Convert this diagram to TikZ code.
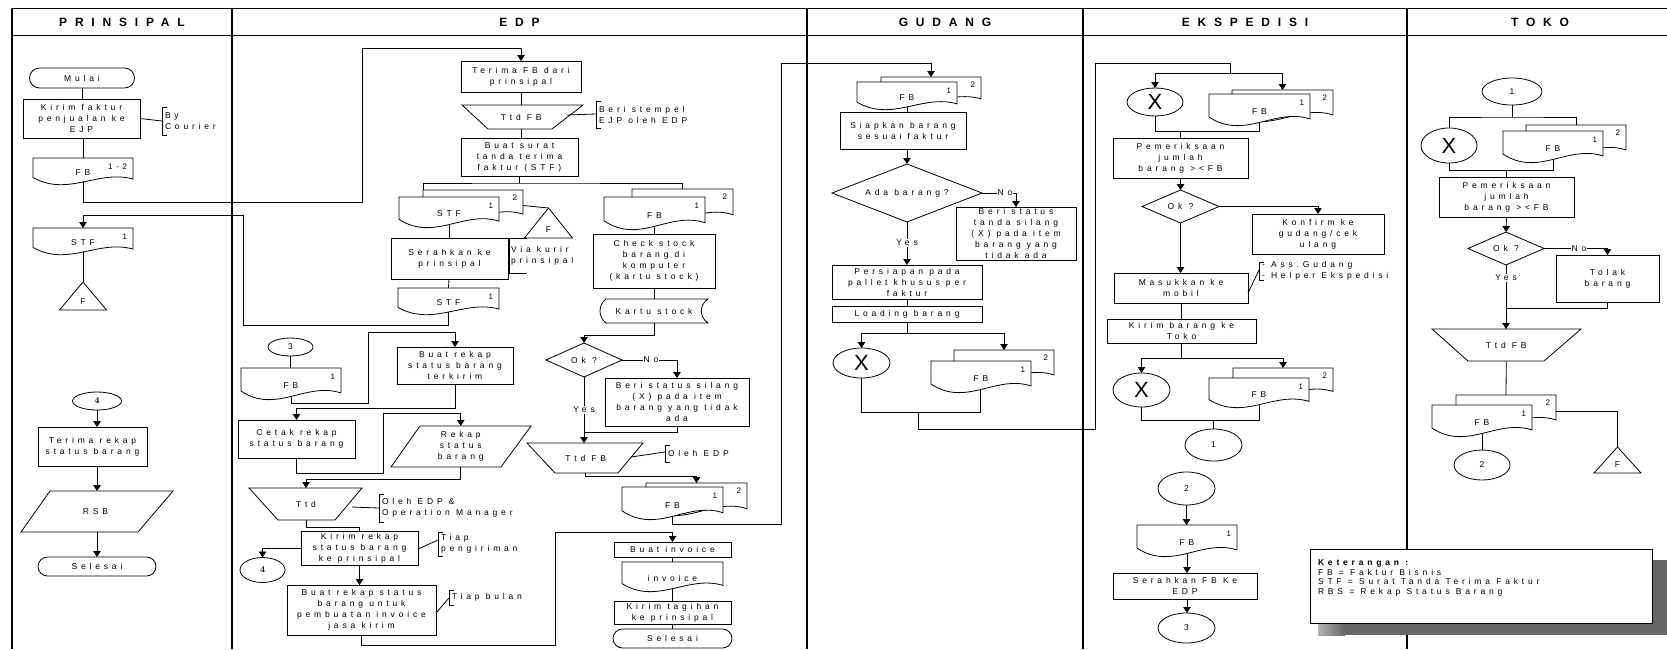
\documentclass[tikz,border=0pt]{standalone}
\usepackage{fontspec}
\usetikzlibrary{arrows.meta,shapes.geometric,calc}
\newfontfamily\lsf[LetterSpace=45]{Liberation Sans}
\newfontfamily\hdf[LetterSpace=65]{Liberation Sans}
\newfontfamily\plainsans{Liberation Sans}
\newcommand\bodyfont{\lsf\fontsize{8.5}{11}\selectfont}
\newcommand\numfont{\lsf\fontsize{8}{8}\selectfont}
\newcommand\headfont{\hdf\bfseries\fontsize{12}{12}\selectfont}
\newcommand\bigxfont{\plainsans\fontsize{22}{22}\selectfont}
\newcommand\serfour{\rmfamily\bfseries\fontsize{9}{9}\selectfont 4}

\tikzset{
  ln/.style={line width=0.8pt},
  lane/.style={line width=1.8pt},
  hline/.style={line width=0.9pt},
  arr/.style={ln, -{Triangle[length=6pt,width=7.5pt]}},
  box/.style={draw, ln, fill=white, rectangle, inner sep=0pt, outer sep=0pt},
  txt/.style={inner sep=0pt, outer sep=0pt, align=center, font=\bodyfont},
  num/.style={txt, font=\numfont, anchor=east},
  conn/.style={draw, ln, fill=white, ellipse, inner sep=0pt, outer sep=0pt, font=\bodyfont},
  lbl/.style={fill=white, inner sep=1pt, font=\bodyfont},
  head/.style={inner sep=0pt, font=\headfont},
}

% process box: name, cx, cy, w, h, text
\newcommand\FBox[6]{%
  \node[box, minimum width=#4, minimum height=#5] (#1) at (#2,#3) {};
  \node[txt] (#1-t) at (#1.center) {#6};}
% terminator
\newcommand\FTerm[6]{%
  \node[box, minimum width=#4, minimum height=#5, rounded corners={#5/2}] (#1) at (#2,#3) {};
  \node[txt] (#1-t) at (#1.center) {#6};}
% off-page connector (ellipse)
\newcommand\FConn[6]{%
  \node[conn, minimum width=#4, minimum height=#5] (#1) at (#2,#3) {#6};}
% quadrilateral (manual operation / data): name, ytop, ybot, top x0, top x1, bottom x0, bottom x1, text
\newcommand\FQuad[8]{%
  \draw[ln, fill=white] (#4,#2) -- (#5,#2) -- (#7,#3) -- (#6,#3) -- cycle;
  \node[txt, minimum width={#5-#4}, minimum height={#3-#2}] (#1) at ({(#4+#5+#6+#7)/4},{(#2+#3)/2}) {#8};}
% decision
\newcommand\FDia[6]{%
  \node[txt, minimum width=#4, minimum height=#5] (#1) at (#2,#3) {#6};
  \draw[ln] (#1.north) -- (#1.east) -- (#1.south) -- (#1.west) -- cycle;}
% document outline: x0, y0, w, h
\newcommand\FDocShape[4]{%
  \draw[ln, fill=white] (#1,#2) -- ({#1+#3},#2) -- ({#1+#3},{#2+0.78*#4})
    .. controls ({#1+0.65*#3},{#2+0.42*#4}) and ({#1+0.35*#3},{#2+1.45*#4}) .. (#1,{#2+0.72*#4}) -- cycle;}
% document: name, x0, y0, w, h, text, copy number
\newcommand\FDoc[7]{%
  \FDocShape{#2}{#3}{#4}{#5}
  \node[txt] (#1) at ({#2+0.5*#4},{#3+0.55*#5}) {#6};
  \node[num] (#1-n) at ({#2+#4-6},{#3+9}) {#7};
  \coordinate (#1-top) at ({#2+0.5*#4},#3);
  \coordinate (#1-bot) at ({#2+0.5*#4},{#3+0.89*#5});}
% two-copy document: name, x0, y0, w, h, dx, dy, text
\newcommand\FStack[8]{%
  \pgfmathsetmacro\stkx{#2+#6}\pgfmathsetmacro\stky{#3-#7}
  \FDocShape{\stkx}{\stky}{#4}{#5}
  \node[num] (#1-n2) at ({\stkx+#4-6},{\stky+8}) {2};
  \coordinate (#1-btop) at ({\stkx+0.5*#4},\stky);
  \coordinate (#1-btl) at (\stkx,\stky);
  \coordinate (#1-bright) at ({\stkx+#4},{\stky+0.5*#5});
  \FDoc{#1}{#2}{#3}{#4}{#5}{#8}{1}}
% file (triangle): name, cx, apex y, base y, half width
\newcommand\FTri[5]{%
  \draw[ln, fill=white] (#2,#3) -- ({#2+#5},#4) -- ({#2-#5},#4) -- cycle;
  \node[txt] (#1) at (#2,{#4-8}) {F};
  \coordinate (#1-apex) at (#2,#3);}
% stored data: name, x0, x1, ytop, ybot, text
\newcommand\FStore[6]{%
  \draw[ln, fill=white] ({#2+6},#4) -- (#3,#4) .. controls ({#3-9},{#4+6}) and ({#3-9},{#5-6}) .. (#3,#5)
    -- ({#2+6},#5) .. controls ({#2-2},{#5-6}) and ({#2-2},{#4+6}) .. ({#2+6},#4) -- cycle;
  \node[txt, minimum width={#3-#2}, minimum height={#5-#4}] (#1) at ({(#2+#3)/2},{(#4+#5)/2}) {#6};}
% annotation: name, bracket x, ytop, ybot, from, y on bracket, text
\newcommand\FAnnot[7]{%
  \draw[ln] ({#2+5},#3) -- (#2,#3) -- (#2,#4) -- ({#2+5},#4);
  \coordinate (#1-b) at (#2,#6);
  \draw[ln] (#5) -- (#1-b);
  \node[txt, anchor=west, align=left] (#1) at ({#2+3},{(#3+#4)/2}) {#7};}

\begin{document}
\begin{tikzpicture}[x=1pt,y=-1pt]
\fill[white] (0,0) rectangle (1667,649);
\useasboundingbox (0,0) rectangle (1667,649);

% ---------- swimlanes ----------
\draw[hline] (12,8) -- (1667,8);
\draw[hline] (12,35) -- (1667,35);
\foreach \lx in {12,232,807,1083,1407} \draw[lane] (\lx,8) -- (\lx,649);
\node[head] (hp) at (122,22) {PRINSIPAL};
\node[head] (he) at (519.5,22) {EDP};
\node[head] (hg) at (945,22) {GUDANG};
\node[head] (hx) at (1245,22) {EKSPEDISI};
\node[head] (ht) at (1540,22) {TOKO};

% ---------- PRINSIPAL ----------
\FTerm{p_mulai}{82}{78}{105}{20}{Mulai}
\FBox{p_kirim}{81.5}{118.5}{117}{39}{Kirim faktur\\penjualan ke\\EJP}
\FAnnot{p_by}{162}{107}{135}{p_kirim.east}{121}{By\\Courier}
\FDoc{p_fb}{33}{158}{100}{27}{FB}{1-2}
\FDoc{p_stf}{33}{228}{100}{27}{STF}{1}
\FTri{p_F}{83}{282}{310}{23.5}
\draw[ln] (p_mulai.south) -- (p_mulai.south |- p_kirim.north);
\draw[ln] (p_fb-top |- p_kirim.south) -- (p_fb-top);
\draw[ln] (p_stf-bot) -- (p_F-apex);

\FConn{p_4}{97}{401}{49}{18}{\serfour}
\FBox{p_terima}{92.5}{446.5}{109}{39}{Terima rekap\\status barang}
\FQuad{p_rsb}{491}{532}{50}{173}{21}{138}{RSB}
\FTerm{p_selesai}{97}{566.5}{118}{19}{Selesai}
\draw[arr] (p_4.south) -- (p_4.south |- p_terima.north);
\draw[arr] (p_4.south |- p_terima.south) -- (p_4.south |- p_rsb.north);
\draw[arr] (p_4.south |- p_rsb.south) -- (p_4.south |- p_selesai.north);

% ---------- EDP ----------
\FBox{e_terima}{521}{76.5}{120}{31}{Terima FB dari\\prinsipal}
\FQuad{e_ttd}{105}{129}{462}{583}{488}{552}{Ttd FB}
\FAnnot{e_stamp}{596}{101}{128}{567,115}{114}{Beri stempel\\EJP oleh EDP}
\FBox{e_buat}{519.5}{157}{117}{38}{Buat surat\\tanda terima\\faktur (STF)}
\draw[ln] (e_terima.south) -- (e_terima.south |- e_ttd.north);
\draw[ln] (e_terima.south |- e_ttd.south) -- (e_terima.south |- e_buat.north);

\FStack{e_stf}{399}{197}{100}{31}{24}{7}{STF}
\FStack{e_fbA}{604}{197}{101}{33}{28}{8}{FB}
\coordinate (e_j1) at (519.5,183);
\draw[ln] (e_buat.south) -- (e_j1);
\draw[ln] (e_stf-btl) |- (e_j1) -| (e_fbA-btop);
\FTri{e_F}{548.5}{208}{238}{24}
\draw[ln] (e_stf-bright) -- (e_F-apex);

\FBox{e_serah}{449.5}{258.5}{117}{41}{Serahkan ke\\prinsipal}
\draw[ln] (527,238) -- (509,238) -- (509,273) -- (527,273);
\node[txt, anchor=west, align=left] (e_via) at (511,256) {Via kurir\\prinsipal};
\FDoc{e_stf2}{398}{288}{101}{27}{STF}{1}
\draw[ln] (e_stf-bot) -- (e_stf-bot |- e_serah.north);
\draw[ln] (e_stf-bot |- e_serah.south) -- (e_stf2-top);
\draw[arr] (e_stf2-bot) |- (243,325) -- (243,215) -| (p_stf-top);
\draw[arr] (p_fb-bot) |- (362,202) -- (362,48) -| (e_terima.north);

\FConn{e_3}{290.5}{347}{45}{18}{3}
\FDoc{e_fb3}{241}{368}{100}{32}{FB}{1}
\draw[ln] (e_3.south) -- (e_3.south |- e_fb3-top);
\FBox{e_rekap}{455}{365.5}{116}{37}{Buat rekap\\status barang\\terkirim}
\draw[arr] (e_fb3-bot) |- (368,403) -- (368,332) -| (e_rekap.north);
\FBox{e_cetak}{296.5}{439}{117}{38}{Cetak rekap\\status barang}
\draw[arr] (e_rekap.south) -- ++(0,24) -| (e_cetak.north);
\FQuad{e_rsb}{426}{467}{420}{531}{391}{501}{Rekap\\status\\barang}
\draw[arr] (e_cetak.south) |- (383,473) -- (383,413) -| (e_rsb.north);
\FQuad{e_ttd2}{488}{520}{249}{362}{278}{335}{Ttd}
\draw[arr] (e_rsb.south) -- ++(0,12) -| (e_ttd2.north);
\FAnnot{e_oleh}{379}{494}{522}{352,507}{508}{Oleh EDP \&\\Operation Manager}
\FBox{e_kirim}{359.5}{548}{117}{34}{Kirim rekap\\status barang\\ke prinsipal}
\draw[ln] (e_ttd2.south) -- ++(0,7) -| (e_kirim.north);
\FConn{e_4}{262.5}{570}{45}{25}{\serfour}
\draw[arr] (e_kirim.west) -| (e_4.north);
\FAnnot{e_tiap}{438}{532}{556}{418,549}{540}{Tiap\\pengiriman}
\FBox{e_jasa}{361.5}{610}{149}{50}{Buat rekap status\\barang untuk\\pembuatan invoice\\jasa kirim}
\draw[arr] (e_kirim.south) -- (e_kirim.south |- e_jasa.north);
\FAnnot{e_bulan}{449}{590}{605}{436,613}{598}{Tiap bulan}

\FBox{e_check}{654}{261}{122}{54}{Check stock\\barang di\\komputer\\(kartu stock)}
\draw[ln] (e_fbA-bot) -- (e_fbA-bot |- e_check.north);
\FStore{e_kartu}{600}{708}{299}{323}{Kartu stock}
\draw[ln] (e_check.south) -- (e_check.south |- e_kartu.north);
\FDia{e_ok}{584}{360}{76}{34}{Ok ?}
\draw[arr] (e_kartu.south) -- ++(0,12) -| (e_ok.north);
\FBox{e_beri}{677}{402}{144}{48}{Beri status silang\\(X) pada item\\barang yang tidak\\ada}
\FQuad{e_ttdfb}{443}{473}{527}{643}{555}{618}{Ttd FB}
\draw[arr] (e_ok.east) -| (e_beri.north);
\node[lbl] (e_no) at (651,360) {No};
\draw[arr] (e_ok.south) -- (e_ok.south |- e_ttdfb.north);
\node[lbl] (e_yes) at (584,410) {Yes};
\draw[ln] (e_beri.south) |- (584,432);
\FAnnot{e_olehedp}{665}{445}{462}{631,457}{452}{Oleh EDP}
\FStack{e_fbB}{622}{487}{101}{33}{24}{4}{FB}
\draw[arr] (e_ttdfb.south) -- ++(0,3) -| (e_fbB-btop);

\FBox{e_binv}{672.5}{549.5}{117}{15}{Buat invoice}
\FDoc{e_inv}{622}{562}{101}{30}{invoice}{}
\FBox{e_tagih}{672.5}{612.5}{117}{23}{Kirim tagihan\\ke prinsipal}
\FTerm{e_selesai}{672.5}{638.5}{119}{19}{Selesai}
\draw[ln] (e_binv.south) -- (e_inv-top);
\draw[ln] (e_inv-bot) -- (e_inv-bot |- e_tagih.north);
\draw[ln] (e_tagih.south) -- (e_tagih.south |- e_selesai.north);
\draw[arr] (e_jasa.south) |- (555,645) -- (555,532) -| (e_binv.north);

% ---------- GUDANG ----------
\FStack{g_fb}{857}{82}{100}{28}{24}{5}{FB}
\draw[arr] (e_fbB-bot) |- (781,524) -- (781,63) -| (g_fb-btop);
\FBox{g_siap}{903}{130.5}{126}{37}{Siapkan barang\\sesuai faktur}
\draw[ln] (g_fb-bot) -- (g_fb-bot |- g_siap.north);
\FDia{g_ada}{907}{193}{150}{58}{Ada barang?}
\draw[arr] (g_ada.north |- g_siap.south) -- (g_ada.north);
\FBox{g_beri}{1016}{233.5}{120}{53}{Beri status\\tanda silang\\(X) pada item\\barang yang\\tidak ada}
\draw[arr] (g_ada.east) -| (g_beri.north);
\node[lbl] (g_no) at (1005,193) {No};
\FBox{g_pers}{907}{282}{150}{34}{Persiapan pada\\pallet khusus per\\faktur}
\draw[arr] (g_ada.south) -- (g_pers.north);
\node[lbl] (g_yes) at (907,243) {Yes};
\FBox{g_load}{907}{314}{150}{16}{Loading barang}
\draw[ln] (g_pers.south) -- (g_load.north);
\FConn{g_x}{861.5}{363}{57}{30}{\bigxfont X}
\FStack{g_fb2}{931}{361}{100}{32}{23}{11}{FB}
\coordinate (g_j) at (907,333);
\draw[ln] (g_load.south) -- (g_j);
\draw[arr] (g_j) -| (g_x.north);
\draw[arr] (g_j) -| (g_fb2-btop);
\draw[ln] (g_x.south) |- (980,412) -- (980,389);

% ---------- EKSPEDISI ----------
\FConn{x_x1}{1155}{102}{56}{28}{\bigxfont X}
\FStack{x_fb1}{1209}{94}{101}{32}{23}{4}{FB}
\coordinate (x_j0) at (1230,73);
\draw[ln] (918,412) |- (1095,429) -- (1095,63) -| (x_j0);
\draw[arr] (x_j0) -| (x_x1.north);
\draw[arr] (x_j0) -| (x_fb1-btop);
\draw[ln] (x_x1.south) |- (1259.5,131) -- (x_fb1-bot);
\FBox{x_pem}{1180.5}{158}{135}{40}{Pemeriksaan\\jumlah\\barang ><FB}
\draw[ln] (1180.5,131) -- (x_pem.north);
\FDia{x_ok}{1180.5}{206.5}{77}{33}{Ok ?}
\draw[arr] (x_pem.south) -- (x_ok.north);
\FBox{x_konf}{1318}{234}{132}{40}{Konfirm ke\\gudang/cek\\ulang}
\draw[arr] (x_ok.east) -| (x_konf.north);
\FBox{x_mas}{1181}{288}{134}{30}{Masukkan ke\\mobil}
\draw[arr] (x_ok.south) -- (x_ok.south |- x_mas.north);
\FAnnot{x_ass}{1259}{262}{280}{1248,293}{270}{- Ass.Gudang\\- Helper Ekspedisi}
\FBox{x_kirim}{1181.5}{331}{149}{24}{Kirim barang ke\\Toko}
\draw[ln] (x_mas.south) -- (x_mas.south |- x_kirim.north);
\FConn{x_x2}{1141.5}{390}{57}{34}{\bigxfont X}
\FStack{x_fb2}{1209}{378}{100}{30}{24}{10}{FB}
\coordinate (x_j1) at (1181.5,358);
\draw[ln] (x_kirim.south) -- (x_j1);
\draw[arr] (x_j1) -| (x_x2.north);
\draw[arr] (x_j1) -| (x_fb2-btop);
\draw[ln] (x_x2.south) |- (1259,420) -- (x_fb2-bot);
\FConn{x_c1}{1213.5}{445}{57}{32}{1}
\draw[ln] (1213.5,420) -- (x_c1.north);
\FConn{x_c2}{1186.5}{488.5}{57}{33}{2}
\FDoc{x_fb3}{1137}{525}{100}{32}{FB}{1}
\draw[arr] (x_c2.south) -- (x_c2.south |- x_fb3-top);
\FBox{x_ser}{1185}{586}{144}{26}{Serahkan FB Ke\\EDP}
\draw[arr] (x_fb3-bot) -- (x_fb3-bot |- x_ser.north);
\FConn{x_c3}{1186.5}{628}{57}{30}{3}
\draw[arr] (x_fb3-bot |- x_ser.south) -- (x_fb3-bot |- x_c3.north);

% ---------- TOKO ----------
\FConn{t_c1}{1512}{91.5}{60}{27}{1}
\FConn{t_x}{1449}{145.5}{56}{35}{\bigxfont X}
\FStack{t_fb}{1503}{131}{100}{32}{23}{6}{FB}
\coordinate (t_j) at (1512,117);
\draw[ln] (t_c1.south) -- (t_j);
\draw[ln] (t_x.north) |- (t_j) -| (t_fb-btop);
\draw[ln] (t_x.south) |- (1553,170) -- (t_fb-bot);
\FBox{t_pem}{1506.5}{197}{135}{40}{Pemeriksaan\\jumlah\\barang ><FB}
\draw[ln] (1506.5,170) -- (t_pem.north);
\FDia{t_ok}{1506}{248.5}{76}{33}{Ok ?}
\draw[arr] (t_pem.south) -- (t_ok.north);
\FBox{t_tolak}{1607.5}{278.5}{103}{47}{Tolak\\barang}
\draw[arr] (t_ok.east) -| (t_tolak.north);
\node[lbl] (t_no) at (1579,248.5) {No};
\FQuad{t_ttd}{329}{361}{1432}{1581}{1468}{1544}{Ttd FB}
\draw[arr] (t_ok.south) -- (t_ok.south |- t_ttd.north);
\node[lbl] (t_yes) at (1506,278) {Yes};
\draw[ln] (t_tolak.south) |- (1506,308);
\FStack{t_fb2}{1432}{405}{100}{32}{24}{10}{FB}
\draw[ln] (t_ttd.south) -- (t_fb2-btop);
\FTri{t_F}{1617.5}{447}{473}{23.5}
\draw[ln] (t_fb2-bright) -| (t_F-apex);
\FConn{t_c2}{1482}{465}{56}{30}{2}
\draw[ln] (t_fb2-bot) -- (t_c2.north);

% ---------- legend ----------
\shade[left color=black!30, right color=black!60] (1318,560) rectangle (1345,635);
\fill[black!60] (1345,560) rectangle (1667,635);
\node[box, minimum width=342, minimum height=74] (legend) at (1481,586) {};
\node[txt, anchor=north west, align=left, font=\lsf\fontsize{8.5}{9.5}\selectfont] (legend-t) at (1318,560)
  {{\bfseries Keterangan :}\\FB = Faktur Bisnis\\STF = Surat Tanda Terima Faktur\\RBS = Rekap Status Barang};
\end{tikzpicture}
\end{document}
